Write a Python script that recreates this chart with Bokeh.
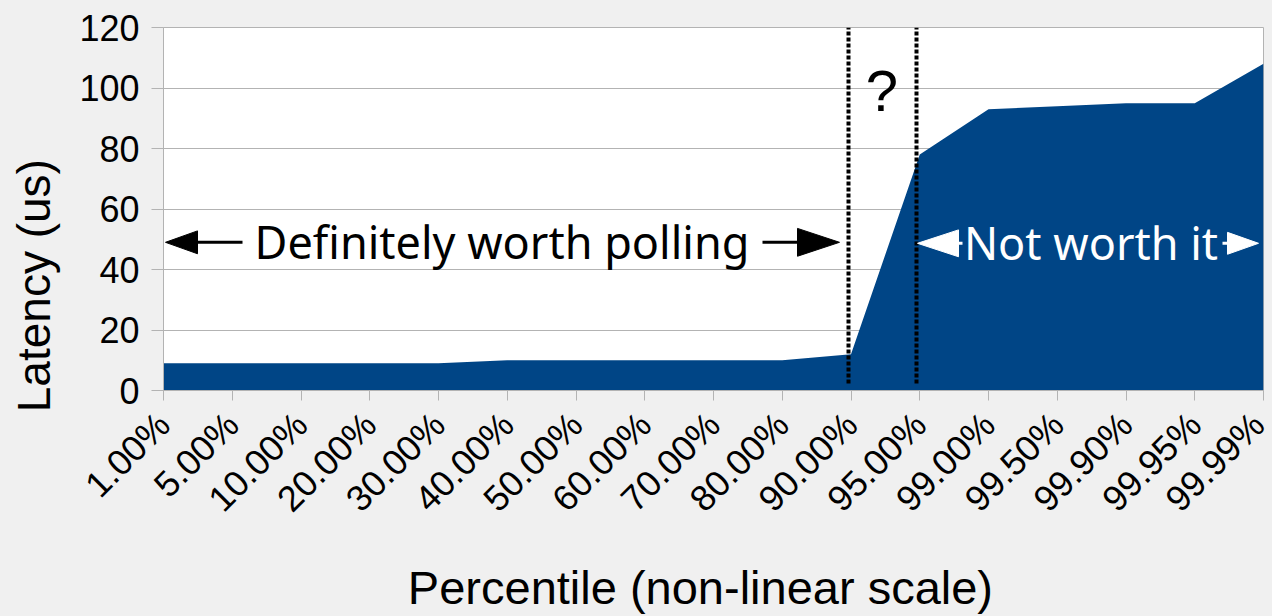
import math
from bokeh.plotting import figure
from bokeh.models import (Range1d, FixedTicker, Label, ColumnDataSource)
from bokeh.embed import file_html
from bokeh.resources import INLINE

# ---- data ----
categories = ["1.00%", "5.00%", "10.00%", "20.00%", "30.00%", "40.00%", "50.00%",
              "60.00%", "70.00%", "80.00%", "90.00%", "95.00%", "99.00%", "99.50%",
              "99.90%", "99.95%", "99.99%"]
latency_us = [9, 9, 9, 9, 9, 10, 10, 10, 10, 10, 12, 78, 93, 94, 95, 95, 108]
y_ticks = [0, 20, 40, 60, 80, 100, 120]

BG = "#f0f0f0"
FILL = "#004586"
GRID = "#b3b3b3"
NBSP = "\u00a0"

idx = list(range(len(categories)))

p = figure(width=1272, height=616, output_backend="svg", toolbar_location=None,
           x_range=Range1d(0, len(categories) - 1), y_range=Range1d(0, 120),
           min_border_left=163, min_border_top=27, min_border_right=9,
           min_border_bottom=224)
p.background_fill_color = "white"
p.border_fill_color = BG
p.outline_line_color = GRID

src = ColumnDataSource(dict(x=idx, y=latency_us, y0=[0] * len(idx)))
p.varea(x="x", y1="y0", y2="y", source=src, fill_color=FILL)

# axes
p.xaxis.ticker = FixedTicker(ticks=idx)
p.xaxis.major_label_overrides = {i: c for i, c in zip(idx, categories)}
p.xaxis.major_label_orientation = math.pi / 4
p.yaxis.ticker = FixedTicker(ticks=y_ticks)
for ax in (p.xaxis[0], p.yaxis[0]):
    ax.axis_line_color = GRID
    ax.major_tick_line_color = GRID
    ax.minor_tick_line_color = None
    ax.major_tick_in = 0
    ax.major_label_text_font = "Liberation Sans"
    ax.major_label_text_font_size = "36px"
    ax.major_label_text_color = "black"
    ax.axis_label_text_font = "Liberation Sans"
    ax.axis_label_text_font_style = "normal"
    ax.axis_label_text_color = "black"
p.xaxis.axis_label_text_font_size = "47px"
p.yaxis.axis_label_text_font_size = "46px"
p.xaxis.major_tick_out = 10
p.yaxis.major_tick_out = 12
p.xaxis.major_label_standoff = 18
p.yaxis.major_label_standoff = 12
# trailing no-break spaces shift the centred titles like the original layout
p.xaxis.axis_label = "Percentile (non-linear scale)" + NBSP * 2
p.yaxis.axis_label = "Latency (us)" + NBSP * 12
p.xaxis.axis_label_standoff = 24
p.yaxis.axis_label_standoff = 16

p.xgrid.grid_line_color = None
p.ygrid.grid_line_color = GRID

# ---- annotations (pixel helper) ----
X0, DX = 163.0, 68.75
Y0, DY = 392.0, 365.0 / 120.0

def dx(px):
    return (px - X0) / DX

def dy(py):
    return (Y0 - py) / DY

# dashed separators
for xp in (848, 916):
    p.segment(x0=[dx(xp)], y0=[dy(385)], x1=[dx(xp)], y1=[120], line_color="black",
              line_width=4, line_dash="4 2")

def arrow(tip, tail, yp, hl, hw, color, lw=3):
    sgn = 1 if tail > tip else -1
    base = tip + sgn * hl
    p.segment(x0=[dx(base)], y0=[dy(yp)], x1=[dx(tail)], y1=[dy(yp)],
              line_color=color, line_width=lw)
    p.patch(x=[dx(tip), dx(base), dx(base)],
            y=[dy(yp), dy(yp - hw / 2), dy(yp + hw / 2)],
            fill_color=color, line_color=color, line_width=1)

arrow(165, 242, 243, 32, 23, "black")
arrow(839, 762, 243, 42, 28, "black")
arrow(917, 962, 244, 41, 27, "white")
arrow(1258, 1222, 244, 31, 22, "white")

p.add_layout(Label(x=dx(501.5), y=dy(242), text="Definitely worth polling",
                   text_font="Noto Sans", text_font_size="45px", text_color="black",
                   text_align="center", text_baseline="alphabetic"))
p.add_layout(Label(x=dx(1090.5), y=dy(243), text="Not worth it",
                   text_font="Noto Sans", text_font_size="45px", text_color="white",
                   text_align="center", text_baseline="alphabetic"))
p.add_layout(Label(x=dx(881.5), y=dy(90), text="?",
                   text_font="Liberation Sans", text_font_size="58px", text_color="black",
                   text_align="center", text_baseline="alphabetic"))

html = file_html(p, INLINE)
html = html.replace("</head>", "<style>body{background:%s;}</style></head>" % BG, 1)
open("out.html", "w").write(html)
